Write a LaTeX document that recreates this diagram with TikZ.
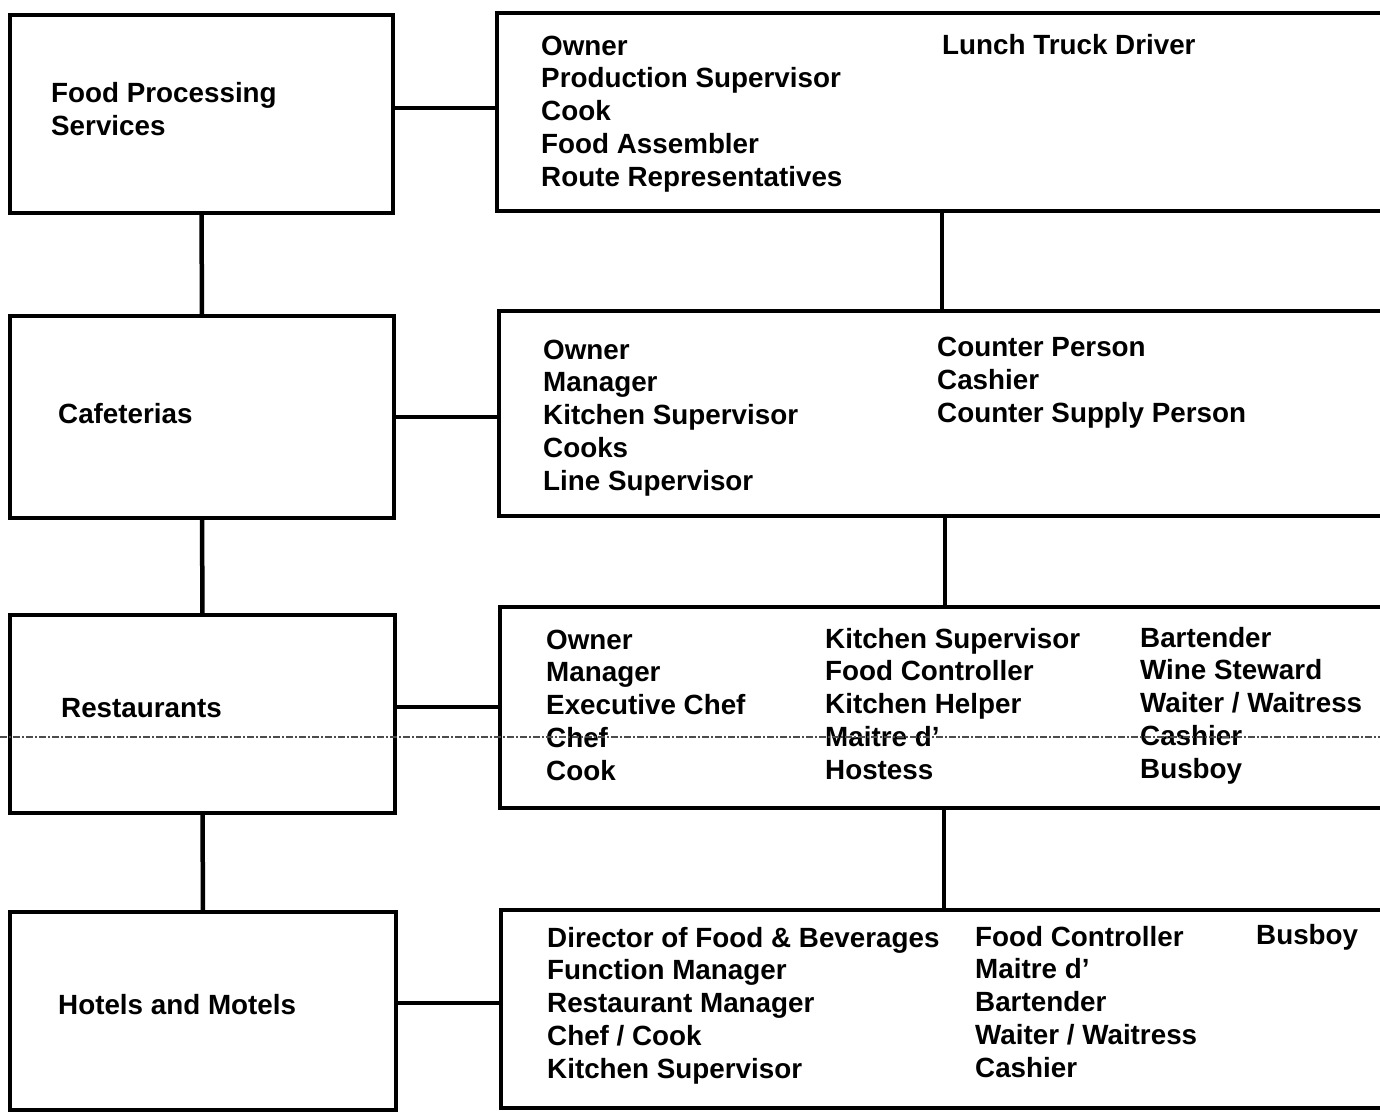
\documentclass[tikz,border=0pt]{standalone}
\usepackage{fontspec}
\setmainfont{Liberation Sans}
\begin{document}
\begin{tikzpicture}[x=1pt,y=-1pt,
  box/.style={draw, line width=3.2pt, rectangle, inner sep=0pt, outer sep=0pt},
  link/.style={line width=4.5pt},
  lbl/.style={inner sep=0pt, anchor=base west, align=left,
    font=\fontsize{27.8}{32.7}\selectfont\bfseries},
  fold/.style={line width=1.1pt, draw=black!70, dash pattern=on 7pt off 2pt on 2pt off 2pt}]
\useasboundingbox (0,0) rectangle (1380,1112);

% sector boxes (left column)
\node[box, minimum width=383pt, minimum height=198pt] (L1) at (201.5,114) {};
\node[box, minimum width=384pt, minimum height=202pt] (L2) at (202,417) {};
\node[box, minimum width=385pt, minimum height=198pt] (L3) at (202.5,714) {};
\node[box, minimum width=386pt, minimum height=198pt] (L4) at (203,1011) {};

% job boxes (right column, running off the page edge)
\node[box, minimum width=903pt, minimum height=198pt] (R1) at (948.5,112) {};
\node[box, minimum width=903pt, minimum height=205pt] (R2) at (950.5,413.5) {};
\node[box, minimum width=903pt, minimum height=201pt] (R3) at (951.5,707.5) {};
\node[box, minimum width=903pt, minimum height=198pt] (R4) at (952.5,1009) {};

% horizontal links
\draw[link] ([yshift=6pt]L1.east) -- ([yshift=6pt]L1.east -| R1.west);
\draw[link] (L2.east) -- (L2.east -| R2.west);
\draw[link] ([yshift=7pt]L3.east) -- ([yshift=7pt]L3.east -| R3.west);
\draw[link] ([yshift=8pt]L4.east) -- ([yshift=8pt]L4.east -| R4.west);

% vertical links, left column
\draw[link] (L1.south) -- (L2.north);
\draw[link] (L2.south) -- (L3.north);
\draw[link] (L3.south) -- (L4.north);

% vertical links, right column
\draw[link] ([xshift=445pt]R1.south west) -- ([xshift=445pt]R1.south west |- R2.north);
\draw[link] ([xshift=446pt]R2.south west) -- ([xshift=446pt]R2.south west |- R3.north);
\draw[link] ([xshift=444pt]R3.south west) -- ([xshift=444pt]R3.south west |- R4.north);

% sector names (positioned by the baseline of their last line)
\node[lbl] (t1) at (51,135) {Food Processing\\Services};
\node[lbl] (t2) at (58,423) {Cafeterias};
\node[lbl] (t3) at (61,717) {Restaurants};
\node[lbl] (t4) at (58,1014) {Hotels and Motels};

% jobs: food processing
\node[lbl] (a1) at (541,186) {Owner\\Production Supervisor\\Cook\\Food Assembler\\Route Representatives};
\node[lbl] (a2) at (942,54) {Lunch Truck Driver};

% jobs: cafeterias
\node[lbl] (b1) at (543,490) {Owner\\Manager\\Kitchen Supervisor\\Cooks\\Line Supervisor};
\node[lbl] (b2) at (937,422) {Counter Person\\Cashier\\Counter Supply Person};

% jobs: restaurants
\node[lbl] (c1) at (546,780) {Owner\\Manager\\Executive Chef\\Chef\\Cook};
\node[lbl] (c2) at (825,779) {Kitchen Supervisor\\Food Controller\\Kitchen Helper\\Maitre d'\\Hostess};
\node[lbl] (c3) at (1140,778) {Bartender\\Wine Steward\\Waiter / Waitress\\Cashier\\Busboy};

% jobs: hotels and motels
\node[lbl] (d1) at (547,1078) {Director of Food \& Beverages\\Function Manager\\Restaurant Manager\\Chef / Cook\\Kitchen Supervisor};
\node[lbl] (d2) at (975,1077) {Food Controller\\Maitre d'\\Bartender\\Waiter / Waitress\\Cashier};
\node[lbl] (d3) at (1256,944) {Busboy};

% fold line across the sheet
\draw[fold] (0,737) -- (1380,737);
\end{tikzpicture}
\end{document}
